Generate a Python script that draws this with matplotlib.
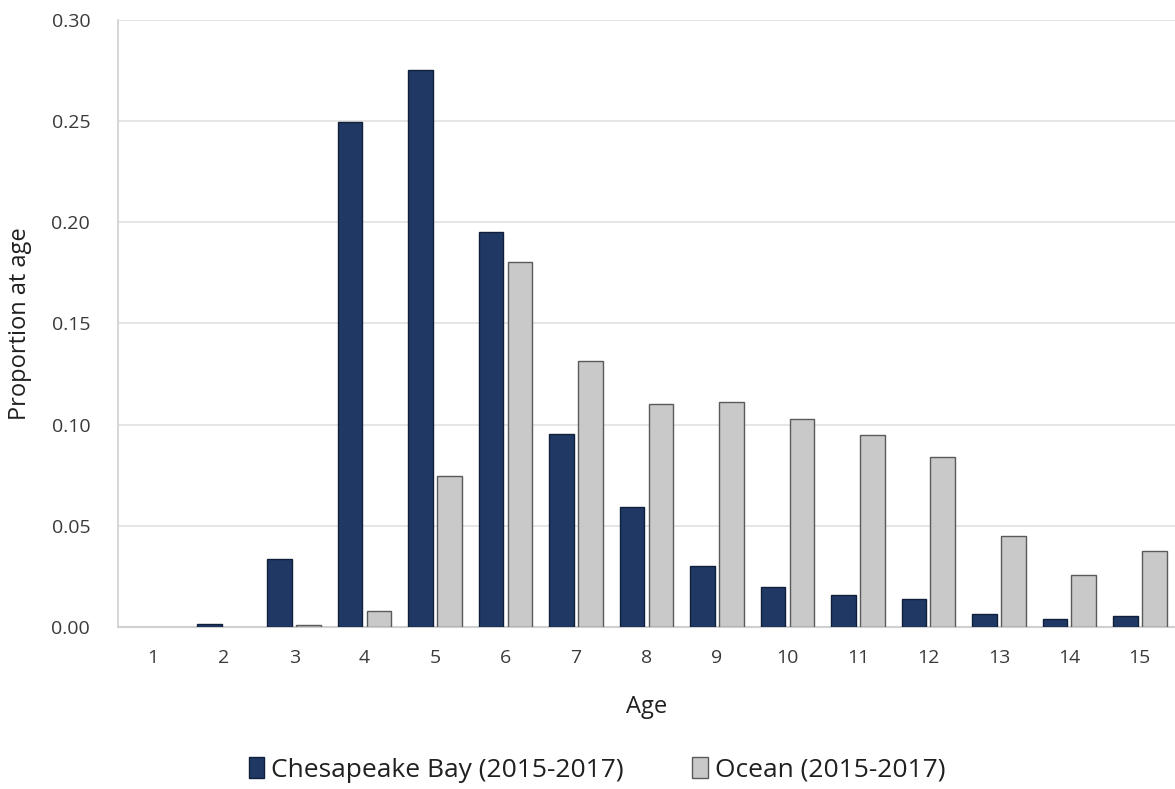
import matplotlib.pyplot as plt
from matplotlib.patches import Patch
import numpy as np

ages = list(range(1, 16))
bay = [0.0, 0.0015, 0.0335, 0.2495, 0.2755, 0.1953, 0.0955, 0.0592, 0.0300,
       0.0198, 0.0158, 0.0138, 0.0065, 0.0040, 0.0054]
ocean = [0.0, 0.0, 0.0010, 0.0078, 0.0745, 0.1805, 0.1315, 0.1102, 0.1110,
         0.1028, 0.0948, 0.0840, 0.0450, 0.0257, 0.0375]
series_names = ['Chesapeake Bay (2015-2017)', 'Ocean (2015-2017)']

plt.rcParams['font.family'] = ['Open Sans', 'DejaVu Sans']

fig = plt.figure(figsize=(11.75, 7.89), dpi=100)
ax = fig.add_axes([0.1004, 0.2053, 0.8996, 0.7694])

x = np.arange(len(ages))
w = 0.35
# no outline for empty bars
ax.bar(x - 0.205, bay, w, color='#1f3864', edgecolor='#10203c',
       linewidth=[1 if v > 0 else 0 for v in bay], zorder=3)
ax.bar(x + 0.205, ocean, w, color='#c9c9c9', edgecolor='#5a5a5a',
       linewidth=[1 if v > 0 else 0 for v in ocean], zorder=3)

ax.set_xlim(-0.5, len(ages) - 0.5)
ax.set_ylim(0, 0.30)
ax.set_yticks(np.arange(0, 0.301, 0.05))
ax.set_yticklabels(['%.2f' % v for v in np.arange(0, 0.301, 0.05)])
ax.set_xticks(x)
ax.set_xticklabels([str(a) for a in ages])
ax.tick_params(length=0, labelsize=14, colors='#3a3a3a', pad=16)
ax.tick_params(axis='y', pad=20)

ax.grid(axis='y', color='#e0e0e0', linewidth=1.2, zorder=0)
for s in ['top', 'right']:
    ax.spines[s].set_visible(False)
ax.spines['left'].set_color('#d0d0d0')
ax.spines['bottom'].set_color('#d0d0d0')
ax.spines['left'].set_linewidth(1.2)
ax.spines['bottom'].set_linewidth(1.5)

ax.set_xlabel('Age', fontsize=17, color='#202020', labelpad=20)
ax.set_ylabel('Proportion at age', fontsize=17, color='#202020', labelpad=14)

handles = [Patch(facecolor='#1f3864', edgecolor='#10203c', linewidth=1),
           Patch(facecolor='#c9c9c9', edgecolor='#5a5a5a', linewidth=1)]
leg = fig.legend(handles, series_names, loc='center', bbox_to_anchor=(0.508, 0.024),
                 ncol=2, frameon=False, fontsize=19, handlelength=0.6,
                 handleheight=0.8, handletextpad=0.25, columnspacing=2.6)
for t in leg.get_texts():
    t.set_color('#202020')

plt.savefig('out.png', dpi=100)
